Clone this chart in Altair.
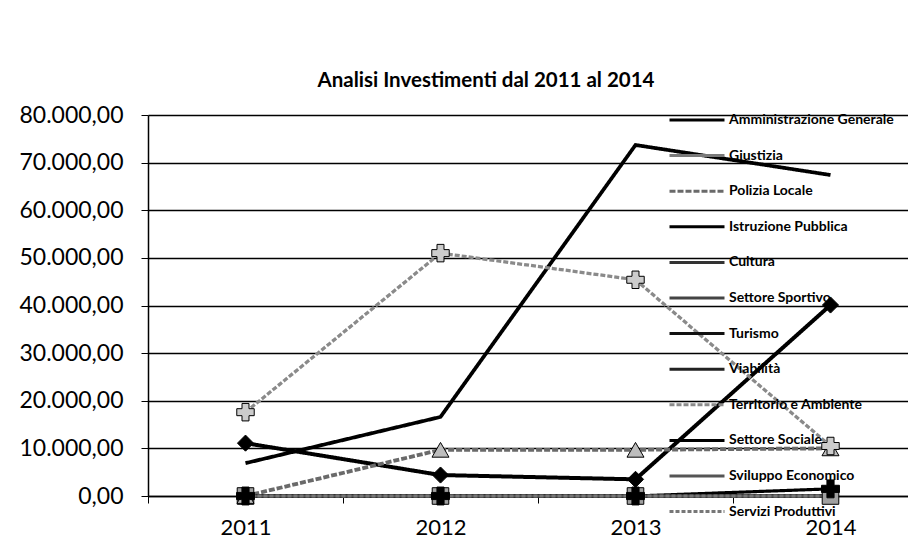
import altair as alt
import pandas as pd

anni = ["2011", "2012", "2013", "2014"]
serie = [
    "Amministrazione Generale", "Giustizia", "Polizia Locale", "Istruzione Pubblica",
    "Cultura", "Settore Sportivo", "Turismo", "Viabilità", "Territorio e Ambiente",
    "Settore Sociale", "Sviluppo Economico", "Servizi Produttivi",
]
amministrazione = [11100, 4400, 3500, 40100]
giustizia = [0, 0, 0, 0]
polizia = [0, 9700, 9700, 10000]
istruzione = [6900, 16600, 73700, 67400]
cultura = [0, 0, 0, 0]
sportivo = [0, 0, 0, 0]
turismo = [0, 0, 0, 0]
viabilita = [0, 0, 0, 0]
territorio = [17600, 51000, 45400, 10500]
sociale = [0, 0, 0, 1500]
sviluppo = [0, 0, 0, 0]
servizi = [0, 0, 0, 0]

valori = [amministrazione, giustizia, polizia, istruzione, cultura, sportivo,
          turismo, viabilita, territorio, sociale, sviluppo, servizi]

rows = []
for s, vals in zip(serie, valori):
    for a, v in zip(anni, vals):
        rows.append({"serie": s, "anno": a, "valore": v})
df = pd.DataFrame(rows)

colori = ["#000000", "#7a7a7a", "#6a6a6a", "#000000", "#333333", "#444444",
          "#111111", "#222222", "#8a8a8a", "#000000", "#555555", "#777777"]
spessori = [4, 3, 3, 5, 3, 3, 4, 4, 2.5, 4, 3, 3]
tratteggi = [[1, 0], [1, 0], [6, 2], [1, 0], [1, 0], [1, 0], [1, 0], [1, 0],
             [5, 2], [1, 0], [1, 0], [4, 2]]

serie_marcate = ["Amministrazione Generale", "Giustizia", "Polizia Locale",
                 "Territorio e Ambiente", "Settore Sociale"]
forme = ["diamond", "square", "triangle-up", "cross", "cross"]
dimensioni = [260, 320, 200, 30, 40]
riempimenti = ["#000000", "#a0a0a0", "#bdbdbd", "#cccccc", "#000000"]

x = alt.X("anno:N", sort=anni,
          scale=alt.Scale(range=[0, 780], paddingInner=0, paddingOuter=0),
          axis=alt.Axis(title=None, labelFont="Lato", labelFontSize=22, labelColor="#000",
                        labelPadding=14, tickBand="extent", tickSize=7, tickColor="#000",
                        domainColor="#000", domainWidth=1.5, grid=False, labelAngle=0))
y = alt.Y("valore:Q",
          scale=alt.Scale(domain=[0, 80000], nice=False),
          axis=alt.Axis(title=None, values=list(range(0, 80001, 10000)),
                        labelExpr="datum.value == 0 ? '0,00' : format(datum.value/1000, 'd') + '.000,00'",
                        labelFont="Lato", labelFontSize=23, labelColor="#000", labelPadding=18,
                        tickSize=7, tickColor="#000", domainColor="#000", domainWidth=1.5,
                        gridColor="#000", gridWidth=1.5, gridOpacity=1))

linee = alt.Chart(df).mark_line().encode(
    x=x, y=y,
    color=alt.Color("serie:N", sort=serie,
                    scale=alt.Scale(domain=serie, range=colori),
                    legend=alt.Legend(title=None, orient="none", legendX=520, legendY=-2,
                                      symbolType="stroke", symbolSize=3025,
                                      symbolStrokeWidth=3, clipHeight=14, rowPadding=21.6,
                                      labelFont="Lato", labelFontSize=14, labelFontWeight="bold",
                                      labelColor="#000", labelOffset=3, labelLimit=300)),
    strokeDash=alt.StrokeDash("serie:N", sort=serie,
                              scale=alt.Scale(domain=serie, range=tratteggi)),
    strokeWidth=alt.StrokeWidth("serie:N", sort=serie,
                                scale=alt.Scale(domain=serie, range=spessori), legend=None),
)

punti = alt.Chart(df).transform_filter(
    alt.FieldOneOfPredicate(field="serie", oneOf=serie_marcate)
).mark_point(filled=True, opacity=1, stroke="#000", strokeWidth=1).encode(
    x=x, y=y,
    shape=alt.Shape("serie:N", scale=alt.Scale(domain=serie_marcate, range=forme), legend=None),
    size=alt.Size("serie:N", scale=alt.Scale(domain=serie_marcate, range=dimensioni), legend=None),
    fill=alt.Fill("serie:N", scale=alt.Scale(domain=serie_marcate, range=riempimenti), legend=None),
)

chart = alt.layer(linee, punti).resolve_scale(
    color="independent", strokeDash="independent", size="independent"
).properties(
    width=760, height=381,
    title=alt.TitleParams("Analisi Investimenti dal 2011 al 2014", font="Lato", fontSize=20.5,
                          fontWeight="bold", color="#000", anchor="middle", dx=-42, dy=35,
                          offset=28, baseline="bottom"),
    autosize=alt.AutoSizeParams(type="none"),
    padding={"left": 140, "top": 107, "right": 0, "bottom": 50},
).configure_view(stroke=None)

chart.save("out.html", embed_options={"renderer": "svg", "actions": False})
